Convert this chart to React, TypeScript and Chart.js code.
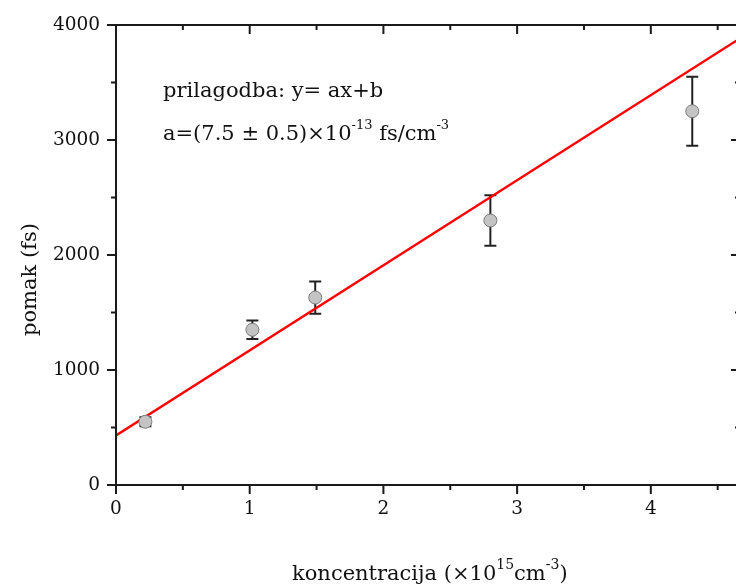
import React, { useEffect, useRef } from 'react';
import { Chart, registerables } from 'chart.js';

Chart.register(...registerables);

// ---- data ----
const concentration = [0.22, 1.02, 1.49, 2.8, 4.31];
const shift = [550, 1350, 1630, 2300, 3250];
const shiftError = [40, 80, 140, 220, 300];
const fitX = [0, 4.7];
const fitY = [430, 3908];
const xTicks = [0, 1, 2, 3, 4];
const yTicks = [0, 1000, 2000, 3000, 4000];
const xMinorTicks = [0.5, 1.5, 2.5, 3.5, 4.5];
const yMinorTicks = [500, 1500, 2500, 3500];
const X_MIN = 0;
const X_MAX = 4.667;
const Y_MIN = 0;
const Y_MAX = 4000;

const FONT = '"DejaVu Serif", serif';

type Part = { t: string; sup?: boolean };

function drawRich(ctx: CanvasRenderingContext2D, x: number, y: number, parts: Part[], size: number, supSize: number, rise: number) {
  let cx = x;
  for (const p of parts) {
    ctx.font = `${p.sup ? supSize : size}px ${FONT}`;
    ctx.fillText(p.t, cx, p.sup ? y - rise : y);
    cx += ctx.measureText(p.t).width;
  }
}

const framePlugin = {
  id: 'framePlugin',
  beforeDatasetsDraw(chart: any) {
    const { ctx, scales } = chart;
    const xs = scales.x;
    const ys = scales.y;
    ctx.save();
    // error bars
    ctx.strokeStyle = '#222';
    ctx.lineWidth = 2;
    for (let i = 0; i < concentration.length; i++) {
      const px = xs.getPixelForValue(concentration[i]);
      const top = ys.getPixelForValue(shift[i] + shiftError[i]);
      const bot = ys.getPixelForValue(shift[i] - shiftError[i]);
      ctx.beginPath();
      ctx.moveTo(px, top);
      ctx.lineTo(px, bot);
      ctx.moveTo(px - 6, top);
      ctx.lineTo(px + 6, top);
      ctx.moveTo(px - 6, bot);
      ctx.lineTo(px + 6, bot);
      ctx.stroke();
    }
    ctx.restore();
  },
  afterDraw(chart: any) {
    const { ctx, chartArea, scales } = chart;
    const xs = scales.x;
    const ys = scales.y;
    const { left, right, top, bottom } = chartArea;
    ctx.save();
    ctx.strokeStyle = '#1a1a1a';
    ctx.lineWidth = 2;
    ctx.beginPath();
    ctx.rect(left, top, right - left, bottom - top);
    ctx.stroke();
    ctx.beginPath();
    const tick = (vals: number[], len: number) => {
      for (const v of vals) {
        const px = xs.getPixelForValue(v);
        ctx.moveTo(px, bottom);
        ctx.lineTo(px, bottom + len);
        ctx.moveTo(px, top);
        ctx.lineTo(px, top + len);
      }
    };
    const ytick = (vals: number[], len: number) => {
      for (const v of vals) {
        const py = ys.getPixelForValue(v);
        ctx.moveTo(left, py);
        ctx.lineTo(left - len, py);
        ctx.moveTo(right, py);
        ctx.lineTo(right - len, py);
      }
    };
    tick(xTicks, 9);
    tick(xMinorTicks, 5);
    ytick(yTicks, 9);
    ytick(yMinorTicks, 5);
    ctx.stroke();

    ctx.fillStyle = '#111';
    ctx.textBaseline = 'alphabetic';
    ctx.textAlign = 'left';
    // annotation
    drawRich(ctx, 163, 97, [{ t: 'prilagodba: y= ax+b' }], 21, 13, 10);
    drawRich(ctx, 163, 140, [
      { t: 'a=(7.5 ± 0.5)×10' },
      { t: '-13', sup: true },
      { t: ' fs/cm' },
      { t: '-3', sup: true },
    ], 21, 13, 11);
    // x title
    drawRich(ctx, 292, 580, [
      { t: 'koncentracija (×10' },
      { t: '15', sup: true },
      { t: 'cm' },
      { t: '-3', sup: true },
      { t: ')' },
    ], 21, 14, 11);
    // y title
    ctx.save();
    ctx.translate(36, 336);
    ctx.rotate(-Math.PI / 2);
    ctx.font = `21px ${FONT}`;
    ctx.fillText('pomak (fs)', 0, 0);
    ctx.restore();
    ctx.restore();
  },
};

export default function App() {
  const ref = useRef<HTMLCanvasElement | null>(null);
  useEffect(() => {
    if (!ref.current) return;
    const chart = new Chart(ref.current, {
      type: 'scatter',
      data: {
        datasets: [
          {
            label: 'data',
            data: concentration.map((x, i) => ({ x, y: shift[i] })),
            pointRadius: 6.5,
            pointHoverRadius: 6.5,
            pointBackgroundColor: '#c4c4c4',
            pointBorderColor: '#7a7a7a',
            pointBorderWidth: 1,
            showLine: false,
          },
          {
            label: 'fit',
            data: fitX.map((x, i) => ({ x, y: fitY[i] })),
            showLine: true,
            borderColor: '#ff0000',
            borderWidth: 2.5,
            pointRadius: 0,
          },
        ],
      },
      options: {
        responsive: false,
        animation: false,
        events: [],
        layout: { padding: { left: 0, top: 25, right: 20, bottom: 0 } },
        plugins: { legend: { display: false }, tooltip: { enabled: false } },
        scales: {
          x: {
            type: 'linear',
            min: X_MIN,
            max: X_MAX,
            afterBuildTicks: (s: any) => { s.ticks = xTicks.map((v) => ({ value: v })); },
            afterFit: (s: any) => { s.height = 99; },
            grid: { display: true, drawOnChartArea: false, drawTicks: true, tickLength: 9, color: 'rgba(0,0,0,0)' },
            border: { display: false },
            ticks: { color: '#111', font: { family: FONT, size: 18.5 }, padding: 4, maxRotation: 0, callback: (v: any) => String(v) },
          },
          y: {
            type: 'linear',
            min: Y_MIN,
            max: Y_MAX,
            afterBuildTicks: (s: any) => { s.ticks = yTicks.map((v) => ({ value: v })); },
            afterFit: (s: any) => { s.width = 116; },
            grid: { display: true, drawOnChartArea: false, drawTicks: true, tickLength: 9, color: 'rgba(0,0,0,0)' },
            border: { display: false },
            ticks: { color: '#111', font: { family: FONT, size: 18.5 }, padding: 7, callback: (v: any) => String(v) },
          },
        },
      },
      plugins: [framePlugin],
    } as any);
    return () => chart.destroy();
  }, []);
  return (
    <div style={{ position: 'fixed', left: 0, top: 0, width: 736, height: 584, overflow: 'hidden', background: '#fff' }}>
      <canvas ref={ref} width={760} height={584} style={{ display: 'block' }} />
    </div>
  );
}
